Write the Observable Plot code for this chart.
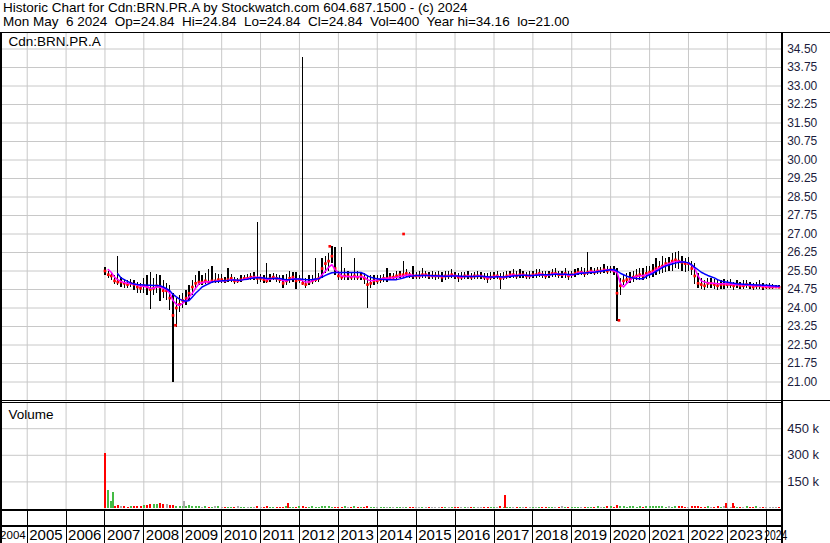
<!DOCTYPE html>
<html><head><meta charset="utf-8">
<script src="https://cdn.jsdelivr.net/npm/d3@7"></script>
<script src="https://cdn.jsdelivr.net/npm/@observablehq/plot@0.6"></script>
<style>
body{margin:0;background:#fff;width:830px;height:543px;overflow:hidden;position:relative;font-family:"Liberation Sans",Arial,sans-serif}
#hdr{position:absolute;left:3px;top:1px;font-size:13.5px;line-height:14px;color:#000;white-space:pre}
.abs{position:absolute}
.ln{position:absolute;background:#000}
</style></head><body>
<div id="hdr">Historic Chart for Cdn:BRN.PR.A by Stockwatch.com 604.687.1500 - (c) 2024
Mon May  6 2024  Op=24.84  Hi=24.84  Lo=24.84  Cl=24.84  Vol=400  Year hi=34.16  lo=21.00</div>
<div id="price" class="abs" style="left:0;top:32px"></div>
<div id="vol" class="abs" style="left:0;top:403px"></div>
<div id="xax" class="abs" style="left:0;top:509px"></div>
<div class="ln" style="left:0;top:32px;width:830px;height:1px"></div>
<div class="ln" style="left:0;top:32px;width:2px;height:511px"></div>
<div class="ln" style="left:780.7px;top:32px;width:2px;height:511px"></div>
<div class="ln" style="left:0;top:400px;width:830px;height:1px"></div>
<div class="ln" style="left:0;top:402px;width:781px;height:1px"></div>
<div class="ln" style="left:0;top:509px;width:781px;height:2px"></div>
<div class="ln" style="left:0;top:525px;width:781px;height:2px"></div>
<script>
// ---- tick labels ----
const priceTicks = [21.00,21.75,22.50,23.25,24.00,24.75,25.50,26.25,27.00,27.75,28.50,29.25,30.00,30.75,31.50,32.25,33.00,33.75,34.50];
const volTicks = [150,300,450];
const yearLabels = ["2004","2005","2006","2007","2008","2009","2010","2011","2012","2013","2014","2015","2016","2017","2018","2019","2020","2021","2022","2023","2024"];

// ---- monthly series, Jan 2007 .. May 2024 ----
const closes = [
25.50,25.35,25.30,25.10,25.05,25.05,25.00,24.95,25.00,24.95,24.85,24.80,
24.90,24.85,24.75,24.80,24.90,24.85,24.70,24.70,24.40,23.70,24.00,24.15,
24.30,24.40,24.60,24.85,25.00,25.05,25.05,25.10,25.05,25.10,25.10,25.15,
25.15,25.10,25.15,25.20,25.10,25.10,25.15,25.20,25.20,25.25,25.25,25.20,
25.20,25.15,25.10,25.20,25.25,25.20,25.15,25.00,25.10,25.20,25.25,25.10,
25.15,25.00,24.95,25.05,25.10,25.15,25.20,25.60,25.80,25.90,26.10,25.60,
25.30,25.25,25.30,25.30,25.25,25.30,25.25,25.30,25.20,24.95,25.00,25.10,
25.10,25.15,25.20,25.20,25.25,25.25,25.30,25.35,25.35,25.40,25.35,25.30,
25.30,25.30,25.35,25.35,25.30,25.30,25.30,25.30,25.25,25.30,25.30,25.35,
25.30,25.25,25.25,25.30,25.30,25.25,25.30,25.30,25.30,25.25,25.20,25.25,
25.30,25.30,25.20,25.25,25.30,25.35,25.35,25.30,25.35,25.35,25.30,25.30,
25.35,25.35,25.40,25.35,25.30,25.35,25.40,25.40,25.35,25.35,25.40,25.30,
25.35,25.40,25.45,25.45,25.40,25.45,25.50,25.45,25.50,25.50,25.55,25.50,
25.55,25.50,24.60,24.90,25.10,25.15,25.20,25.25,25.30,25.35,25.30,25.40,
25.45,25.50,25.60,25.65,25.70,25.80,25.80,25.90,25.95,25.90,25.85,25.80,
25.80,25.60,25.30,25.00,24.95,24.90,25.00,25.00,24.95,24.90,24.95,24.95,
24.95,24.95,24.90,24.95,24.90,24.90,24.95,24.90,24.85,24.90,24.90,24.85,
24.85,24.85,24.85,24.85,24.84];
const highs = [
25.65,25.50,25.45,25.30,26.10,25.25,25.15,25.10,25.15,25.10,25.05,25.00,
25.20,25.30,25.45,25.20,25.35,25.30,25.10,25.00,24.90,24.60,24.40,24.50,
24.60,24.70,24.90,25.10,25.30,25.50,25.30,25.40,25.55,25.70,25.40,25.35,
25.35,25.25,25.60,25.35,25.25,25.20,25.30,25.30,25.35,25.40,25.45,27.45,
25.35,25.30,25.80,25.35,25.40,25.35,25.30,25.30,25.35,25.50,25.45,25.45,
25.30,34.16,25.20,25.30,25.30,26.00,25.40,26.00,26.10,26.20,26.50,26.45,
25.50,26.45,25.60,25.50,25.45,26.00,25.50,25.45,25.40,25.30,25.30,25.30,
25.30,25.30,25.35,25.60,25.40,25.40,25.50,25.50,25.90,25.55,25.45,25.70,
25.45,25.50,25.60,25.50,25.45,25.50,25.45,25.50,25.45,25.50,25.50,25.55,
25.45,25.40,25.45,25.45,25.50,25.40,25.45,25.50,25.45,25.40,25.40,25.45,
25.45,25.50,25.40,25.45,25.50,25.50,25.55,25.50,25.55,25.50,25.45,25.50,
25.50,25.55,25.55,25.50,25.50,25.50,25.55,25.60,25.50,25.50,25.60,25.50,
25.50,25.55,25.60,25.65,25.60,26.25,25.65,25.60,25.65,25.65,25.75,25.70,
25.70,25.70,25.60,25.20,25.35,25.40,25.45,25.50,25.55,25.60,25.60,25.70,
25.70,25.75,26.00,25.90,26.10,26.00,26.05,26.20,26.25,26.30,26.10,26.00,
26.05,25.90,25.80,25.40,25.20,25.10,25.20,25.20,25.15,25.10,25.10,25.15,
25.10,25.15,25.05,25.10,25.05,25.10,25.10,25.05,25.00,25.05,25.10,25.00,
24.95,25.00,24.95,24.90,24.90];
const lows = [
25.30,25.20,25.10,24.95,24.90,24.85,24.80,24.80,24.85,24.70,24.60,24.60,
24.60,24.50,23.95,24.50,24.60,24.25,24.40,24.30,23.90,21.00,23.20,23.80,
24.00,24.10,24.30,24.50,24.80,24.90,24.90,24.95,24.95,25.00,25.00,25.00,
25.00,25.00,25.05,25.05,24.95,25.00,25.05,25.10,25.10,25.10,25.10,24.95,
25.05,25.00,25.00,25.05,25.10,25.05,25.00,24.80,24.90,25.00,25.05,24.75,
25.00,24.90,24.80,24.90,24.95,25.05,25.05,25.20,25.40,25.50,25.80,25.30,
25.10,25.10,25.10,25.10,25.10,25.10,25.10,25.10,24.95,24.00,24.80,24.90,
24.95,25.00,25.05,25.05,25.10,25.10,25.15,25.20,25.20,25.25,25.20,25.15,
25.15,25.15,25.20,25.20,25.15,25.15,25.10,25.15,25.05,25.10,25.15,25.20,
25.15,25.05,25.10,25.15,25.15,25.10,25.15,25.15,25.15,25.10,25.00,25.10,
25.15,25.15,24.75,25.10,25.15,25.20,25.20,25.15,25.20,25.20,25.15,25.15,
25.20,25.20,25.25,25.20,25.15,25.20,25.25,25.25,25.20,25.20,25.20,25.10,
25.20,25.25,25.30,25.30,25.25,25.30,25.35,25.30,25.35,25.35,25.40,25.35,
25.40,25.30,23.45,24.50,24.90,24.95,25.00,25.05,25.10,25.10,25.10,25.15,
25.20,25.25,25.30,25.35,25.40,25.45,25.50,25.50,25.60,25.55,25.50,25.45,
25.50,25.30,24.95,24.80,24.75,24.70,24.80,24.80,24.75,24.70,24.75,24.75,
24.80,24.80,24.70,24.80,24.75,24.75,24.80,24.75,24.70,24.75,24.75,24.70,
24.75,24.75,24.75,24.80,24.80];
const maShort = [
null,25.56,25.45,25.25,25.15,25.08,25.03,25.00,24.98,24.97,24.93,24.88,
24.88,24.85,24.80,24.80,24.85,24.85,24.80,24.75,24.60,24.30,24.15,24.10,
24.20,24.30,24.45,24.60,24.80,24.98,25.02,25.05,25.06,25.07,25.08,25.10,
25.10,25.10,25.12,25.15,25.13,25.10,25.12,25.17,25.20,25.22,25.25,25.25,
25.25,25.20,25.15,25.17,25.20,25.20,25.18,25.10,25.10,25.15,25.20,25.18,
25.17,25.10,25.05,25.05,25.10,25.15,25.20,25.35,25.50,25.65,25.76,25.55,
25.45,25.30,25.28,25.28,25.27,25.28,25.27,25.27,25.25,25.15,25.10,25.12,
25.13,25.18,25.20,25.20,25.22,25.23,25.25,25.28,25.30,25.33,25.35,25.33,
25.32,25.30,25.32,25.33,25.32,25.30,25.30,25.30,25.28,25.28,25.30,25.32,
25.32,25.28,25.26,25.28,25.30,25.28,25.28,25.30,25.30,25.27,25.23,25.24,
25.27,25.30,25.25,25.24,25.28,25.32,25.34,25.32,25.33,25.34,25.32,25.30,
25.32,25.34,25.37,25.36,25.33,25.34,25.37,25.39,25.37,25.35,25.37,25.33,
25.33,25.37,25.42,25.45,25.43,25.44,25.48,25.47,25.49,25.50,25.53,25.55,
25.55,25.50,25.45,25.00,24.85,25.00,25.12,25.25,25.28,25.30,25.32,25.35,
25.40,25.45,25.55,25.62,25.68,25.75,25.80,25.85,25.88,25.90,25.88,25.85,
25.83,25.72,25.60,25.30,25.10,25.05,25.02,25.00,25.00,24.98,24.98,24.98,
24.97,24.96,24.95,24.94,24.94,24.93,24.93,24.92,24.90,24.90,24.90,24.88,
24.87,24.86,24.86,24.85,24.85];
const maLong = [
null,null,null,null,25.39,25.22,25.15,25.08,25.02,24.97,24.95,24.94,
24.93,24.92,24.92,24.91,24.91,24.90,24.85,24.78,24.70,24.55,24.45,24.36,
24.30,24.27,24.30,24.45,24.60,24.72,24.85,24.92,24.98,25.05,25.07,25.08,
25.10,25.10,25.12,25.13,25.14,25.13,25.13,25.15,25.17,25.20,25.22,25.23,
25.23,25.22,25.20,25.20,25.20,25.21,25.20,25.17,25.15,25.15,25.17,25.18,
25.18,25.17,25.15,25.15,25.16,25.18,25.19,25.25,25.32,25.38,25.43,25.44,
25.44,25.44,25.44,25.44,25.44,25.44,25.44,25.44,25.38,25.30,25.25,25.21,
25.19,25.17,25.16,25.15,25.15,25.15,25.15,25.18,25.22,25.26,25.29,25.30,
25.32,25.32,25.32,25.32,25.32,25.31,25.31,25.30,25.30,25.29,25.29,25.30,
25.30,25.30,25.29,25.28,25.28,25.28,25.28,25.29,25.29,25.28,25.27,25.26,
25.26,25.27,25.27,25.26,25.27,25.28,25.30,25.31,25.32,25.33,25.33,25.32,
25.32,25.33,25.34,25.35,25.35,25.35,25.36,25.37,25.37,25.37,25.37,25.36,
25.36,25.37,25.39,25.41,25.42,25.43,25.44,25.45,25.47,25.49,25.51,25.53,
25.55,25.56,25.50,25.41,25.35,25.29,25.25,25.22,25.20,25.19,25.19,25.28,
25.35,25.40,25.48,25.56,25.64,25.70,25.74,25.78,25.82,25.85,25.86,25.86,
25.83,25.75,25.65,25.55,25.45,25.38,25.32,25.27,25.22,25.15,25.10,25.06,
25.04,25.02,25.00,24.98,24.97,24.96,24.95,24.95,24.94,24.93,24.93,24.92,
24.92,24.91,24.90,24.89,24.88];
const volumes = [ // thousands
20,25,18,12,15,10,12,8,10,12,14,10,
15,18,22,20,24,26,22,25,15,18,14,10,
12,14,16,12,14,10,8,10,8,8,10,8,
8,8,6,8,8,10,8,8,6,8,8,10,
8,8,10,8,6,8,8,6,10,8,8,8,
12,10,8,8,10,8,8,10,12,10,8,8,
8,8,10,8,8,10,8,8,8,12,8,8,
7,6,8,7,6,8,6,7,6,8,7,6,
7,6,8,6,7,8,6,7,6,8,6,7,
6,7,6,8,7,6,8,6,7,6,8,6,
7,8,9,7,6,8,7,6,8,7,6,8,
8,6,7,8,6,7,8,6,7,9,7,8,
7,8,6,7,8,6,7,8,9,7,8,9,
10,8,18,14,10,8,10,12,8,10,8,10,
10,12,14,10,12,8,10,8,10,12,10,8,
8,10,12,10,8,8,10,8,8,10,8,10,
8,8,10,8,8,8,10,8,8,10,8,8,
8,8,6,8,6];

// single-day outliers
const extraDates = ["2008-10-24","2012-10-12","2014-09-05","2020-03-19"];
const extraCloses = [23.30,26.50,27.00,23.50];
const volSpikeDates = ["2006-12-29","2007-02-02","2007-02-28","2007-03-15","2009-01-10","2009-11-01","2009-12-01","2011-09-12","2017-04-10","2022-12-20","2023-02-20"];
const volSpikeValues = [309,104,42,88,42,14,14,28,71,28,30];
const volSpikeDirs = ["down","up","up","up","flat","flat","up","down","down","down","down"];

// ---- build tables ----
const months = d3.utcMonth.range(new Date(Date.UTC(2007,0,1)), new Date(Date.UTC(2024,5,1)));
const price = months.map((date,i)=>({date, close:closes[i], high:highs[i], low:lows[i], ma1:maShort[i], ma2:maLong[i]}));
const extras = extraDates.map((d,i)=>({date:new Date(d+"T00:00Z"), close:extraCloses[i]}));
const vol = months.map((date,i)=>({date, v:volumes[i],
  dir: i===0 ? "up" : closes[i]>closes[i-1] ? "up" : closes[i]<closes[i-1] ? "down" : "flat"}))
  .concat(volSpikeDates.map((d,i)=>({date:new Date(d+"T00:00Z"), v:volSpikeValues[i], dir:volSpikeDirs[i]})));
const yearStarts = yearLabels.map(y=>new Date(Date.UTC(+y,0,1)));
const bounds = yearStarts.slice(1);
const xDomain = [new Date(Date.UTC(2004,4,14)), new Date(Date.UTC(2024,4,30))];
const xScale = {type:"utc", domain:xDomain, range:[2,781.7], axis:null};
const style = {background:"transparent", fontFamily:"'Liberation Sans', Arial, sans-serif", fontSize:"12px", color:"#000", overflow:"visible"};
const grid = "#c8c8c8";

const pricePlot = Plot.plot({
  width:830, height:368, marginLeft:2, marginRight:48.3, marginTop:0, marginBottom:0,
  x:xScale, y:{domain:[21,34.5], range:[349.5,16.5], axis:null}, style,
  marks:[
    Plot.gridX(bounds, {stroke:grid, strokeOpacity:1}),
    Plot.gridY(priceTicks, {stroke:grid, strokeOpacity:1}),
    Plot.ruleX(price, {x:"date", y1:"low", y2:"high", stroke:"#000", strokeWidth:1.3, shapeRendering:"crispEdges"}),
    Plot.dot(price, {x:"date", y:"close", symbol:"square", r:1.5, fill:"#ff0000", stroke:null}),
    Plot.dot(extras, {x:"date", y:"close", symbol:"square", r:1.5, fill:"#ff0000", stroke:null}),
    Plot.line(price, {x:"date", y:"ma1", stroke:"#ff00ff", strokeWidth:1.5}),
    Plot.line(price, {x:"date", y:"ma2", stroke:"#0000ff", strokeWidth:1.5}),
    Plot.axisY({ticks:priceTicks, anchor:"right", tickSize:0, tickPadding:5, tickFormat:d=>d.toFixed(2), fontSize:12, fill:"#1c1c3c", label:null}),
    Plot.text(["Cdn:BRN.PR.A"], {frameAnchor:"top-left", textAnchor:"start", lineAnchor:"middle", dx:6, dy:9, fontSize:13.5, fill:"#000"})
  ]
});
document.getElementById("price").appendChild(pricePlot);

const volPlot = Plot.plot({
  width:830, height:106, marginLeft:2, marginRight:48.3, marginTop:0, marginBottom:0,
  x:xScale, y:{domain:[0,600], range:[105,-1.4], axis:null}, style,
  color:{domain:["down","up","flat"], range:["#ff0000","#44bb44","#aaaaaa"]},
  marks:[
    Plot.gridX(bounds, {stroke:grid, strokeOpacity:1}),
    Plot.gridY(volTicks, {stroke:grid, strokeOpacity:1}),
    Plot.ruleX(vol, {x:"date", y1:0, y2:"v", stroke:"dir", strokeWidth:2, shapeRendering:"crispEdges"}),
    Plot.axisY({ticks:volTicks, anchor:"right", tickSize:0, tickPadding:5, tickFormat:d=>`${d} k`, fontSize:13, fill:"#1c1c3c", label:null}),
    Plot.text(["Volume"], {frameAnchor:"top-left", textAnchor:"start", lineAnchor:"middle", dx:6, dy:11, fontSize:13.5, fill:"#000"})
  ]
});
document.getElementById("vol").appendChild(volPlot);

const first = yearLabels[0], last = yearLabels[yearLabels.length-1];
const axPlot = Plot.plot({
  width:830, height:34, marginLeft:2, marginRight:48.3, marginTop:0, marginBottom:0,
  x:xScale, style,
  marks:[
    Plot.ruleX(bounds, {stroke:"#000", strokeWidth:1, shapeRendering:"crispEdges"}),
    Plot.text([first], {x:()=>yearStarts[1], frameAnchor:"bottom", textAnchor:"end", lineAnchor:"middle", dx:-1.5, dy:-8, fontSize:11.5, fill:"#000"}),
    Plot.text(yearLabels.slice(1,-1), {x:(d)=>new Date(Date.UTC(+d,0,1)), frameAnchor:"bottom", textAnchor:"start", lineAnchor:"middle", dx:2, dy:-8, fontSize:15, fill:"#000"}),
    Plot.text([last], {x:(d)=>new Date(Date.UTC(+d,0,1)), frameAnchor:"bottom", textAnchor:"start", lineAnchor:"middle", dx:-2, dy:-8, fontSize:15, fill:"#000", className:"yl-last"})
  ]
});
axPlot.querySelectorAll(".yl-last text").forEach(t=>{
  t.setAttribute("textLength","23"); t.setAttribute("lengthAdjust","spacingAndGlyphs");
});
document.getElementById("xax").appendChild(axPlot);
</script>
</body></html>
